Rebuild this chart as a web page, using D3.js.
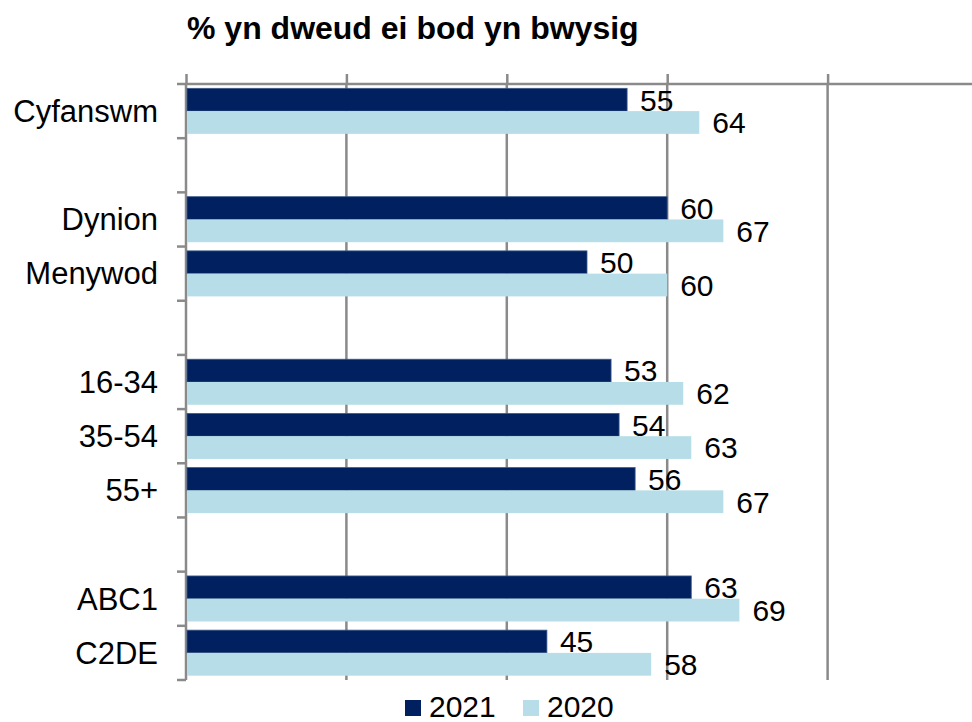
<!DOCTYPE html>
<html>
<head>
<meta charset="utf-8">
<script src="https://cdn.jsdelivr.net/npm/d3@7"></script>
<style>
html,body{margin:0;padding:0;background:#fff;}
svg{display:block;}
text{font-family:"Liberation Sans",Arial,sans-serif;fill:#000;}
</style>
</head>
<body>
<svg id="chart" width="972" height="722"></svg>
<script>
const title = "% yn dweud ei bod yn bwysig";
const categories = ["Cyfanswm", "", "Dynion", "Menywod", " ", "16-34", "35-54", "55+", "  ", "ABC1", "C2DE"];
const seriesNames = ["2021", "2020"];
const values2021 = [55, null, 60, 50, null, 53, 54, 56, null, 63, 45];
const values2020 = [64, null, 67, 60, null, 62, 63, 67, null, 69, 58];
const xTicks = [0, 20, 40, 60, 80, 100];
const colors = ["#002060", "#B7DEE8"];

(function () {
const svg = d3.select("#chart");
const pLeft = 186, pTop = 84, pBottom = 680, pRight = 988;

const x = d3.scaleLinear().domain([0, 100]).range([pLeft, pRight]);
const y = d3.scaleBand().domain(d3.range(categories.length)).range([pTop, pBottom]).paddingInner(0).paddingOuter(0);
const sub = d3.scaleBand().domain(seriesNames).range([0, y.bandwidth()]).paddingInner(0).paddingOuter(0.19);

const gridColor = "#8a8a8a";

// gridlines
svg.append("g").selectAll("line").data(xTicks.slice(1)).join("line")
  .attr("x1", d => x(d)).attr("x2", d => x(d))
  .attr("y1", pTop).attr("y2", pBottom)
  .attr("stroke", gridColor).attr("stroke-width", 2.5);

// top value axis (no labels)
const xAxis = d3.axisTop(x).tickValues(xTicks).tickSize(10).tickFormat("");
const gx = svg.append("g").attr("transform", `translate(0,${pTop})`).call(xAxis);
gx.select(".domain").attr("stroke", gridColor).attr("stroke-width", 2.5).attr("d", `M${pLeft},0H${pRight + 20}`);
gx.selectAll(".tick line").attr("stroke", gridColor).attr("stroke-width", 2.5);

// left category axis line + boundary ticks
const boundaries = d3.range(categories.length + 1).map(i => i === categories.length ? pBottom : y(i));
svg.append("line").attr("x1", pLeft).attr("x2", pLeft).attr("y1", pTop).attr("y2", pBottom)
  .attr("stroke", gridColor).attr("stroke-width", 2.5);
svg.append("g").selectAll("line").data(boundaries).join("line")
  .attr("x1", pLeft - 9).attr("x2", pLeft).attr("y1", d => d).attr("y2", d => d)
  .attr("stroke", gridColor).attr("stroke-width", 2.5);

// category labels
svg.append("g").selectAll("text").data(categories).join("text")
  .attr("x", 158).attr("y", (d, i) => y(i) + y.bandwidth() / 2)
  .attr("dy", "0.35em").attr("text-anchor", "end")
  .attr("font-size", 31).text(d => d.trim());

// bars
const series = [values2021, values2020];
series.forEach((vals, si) => {
  const rows = vals.map((v, i) => ({v, i})).filter(d => d.v !== null);
  const g = svg.append("g");
  g.selectAll("rect").data(rows).join("rect")
    .attr("x", x(0) + 1)
    .attr("y", d => y(d.i) + sub(seriesNames[si]))
    .attr("width", d => x(d.v) - x(0) - 1)
    .attr("height", sub.bandwidth())
    .attr("fill", colors[si])
    .attr("stroke", si === 0 ? "#3d5a88" : "none")
    .attr("stroke-width", si === 0 ? 0.8 : 0);
  g.selectAll("text").data(rows).join("text")
    .attr("x", d => x(d.v) + 13)
    .attr("y", d => y(d.i) + sub(seriesNames[si]) + sub.bandwidth() / 2)
    .attr("dy", "0.36em")
    .attr("font-size", 30)
    .text(d => d.v);
});

// title
svg.append("text").attr("x", 187).attr("y", 39)
  .attr("font-size", 32).attr("font-weight", "bold").text(title);

// legend
const legendX = [405, 523];
const lg = svg.append("g").selectAll("g").data(seriesNames).join("g")
  .attr("transform", (d, i) => `translate(${legendX[i]},700)`);
lg.append("rect").attr("width", 16).attr("height", 16).attr("fill", (d, i) => colors[i]);
lg.append("text").attr("x", 24).attr("y", 16.5).attr("font-size", 30).text(d => d);
})();
</script>
</body>
</html>
